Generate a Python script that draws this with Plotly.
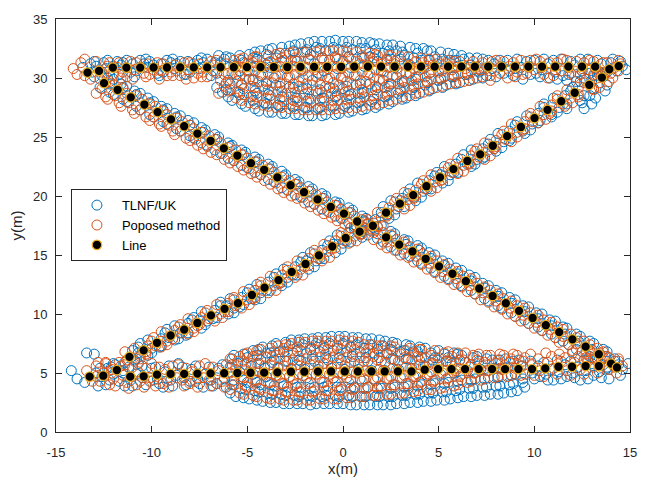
import plotly.graph_objects as go

# ---------------- reference trajectory ("Line") ----------------
line_top_x = [-13.35, -12.75, -12.03, -11.32, -10.60, -9.90, -9.20, -8.51, -7.80, -7.10,
              -6.40, -5.71, -5.02, -4.31, -3.62, -2.91, -2.22, -1.51, -0.82, -0.10,
              0.59, 1.30, 1.99, 2.70, 3.39, 4.08, 4.79, 5.49, 6.19, 6.89,
              7.59, 8.29, 8.99, 9.69, 10.40, 11.09, 11.78, 12.49, 13.18, 13.92, 14.41]
line_top_y = [30.46, 30.60, 30.88, 30.88, 30.88, 30.89, 30.89, 30.90, 30.90, 30.90,
              30.91, 30.91, 30.92, 30.92, 30.93, 30.93, 30.94, 30.94, 30.95, 30.95,
              30.96, 30.96, 30.96, 30.96, 30.96, 30.96, 30.96, 30.96, 30.96, 30.96,
              30.96, 30.96, 30.96, 30.96, 30.96, 30.96, 30.96, 30.96, 30.96, 30.74, 31.01]

line_diag_a_x = [-11.16, -10.42, -9.72, -9.01, -8.30, -7.61, -6.90, -6.19, -5.49, -4.76,
                 -4.10, -3.37, -2.68, -1.96, -1.26, -0.56, 0.14, 0.87, 1.56, 2.25,
                 2.97, 3.67, 4.36, 5.07, 5.77, 6.50, 7.17, 7.83, 8.58, 9.30,
                 10.01, 10.69, 11.41, 12.11, 12.87, 13.53]
line_diag_a_y = [6.37, 6.92, 7.56, 8.18, 8.68, 9.24, 9.88, 10.44, 10.91, 11.61,
                 12.23, 12.87, 13.57, 14.24, 14.97, 15.72, 16.44, 16.98, 17.48, 18.59,
                 19.35, 20.08, 20.83, 21.58, 22.28, 22.97, 23.53, 24.26, 25.07, 25.85,
                 26.60, 27.30, 28.03, 28.75, 29.42, 30.04]

line_diag_b_x = [-12.49, -11.78, -11.09, -10.38, -9.69, -8.99, -8.30, -7.61, -6.92, -6.23,
                 -5.52, -4.81, -4.12, -3.43, -2.74, -2.04, -1.33, -0.64, 0.05, 0.74,
                 2.25, 2.94, 3.63, 4.32, 5.02, 5.72, 6.42, 7.12, 7.82, 8.51,
                 9.20, 9.91, 10.60, 11.30, 11.99, 12.68, 13.37, 14.01]
line_diag_b_y = [29.56, 29.00, 28.36, 27.75, 27.11, 26.49, 25.91, 25.29, 24.68, 24.04,
                 23.43, 22.78, 22.22, 21.58, 20.91, 20.32, 19.71, 19.07, 18.51, 17.84,
                 16.50, 15.88, 15.30, 14.68, 14.04, 13.41, 12.78, 12.16, 11.53, 10.91,
                 10.27, 9.66, 9.05, 8.46, 7.85, 7.23, 6.59, 5.80]

line_bottom_x = [-13.24, -12.53, -11.82, -11.12, -10.42, -9.72, -9.01, -8.30, -7.61, -6.92,
                 -6.21, -5.52, -4.83, -4.12, -3.43, -2.72, -2.02, -1.31, -0.62, 0.09,
                 0.78, 1.49, 2.18, 2.87, 3.58, 4.27, 4.97, 5.67, 6.38, 7.09,
                 7.79, 8.47, 9.17, 9.88, 10.57, 11.26, 11.97, 12.68, 13.37, 14.32]
line_bottom_y = [4.69, 4.77, 5.25, 4.69, 4.72, 4.86, 4.92, 4.92, 4.95, 4.97,
                 4.98, 5.00, 5.02, 5.03, 5.05, 5.11, 5.11, 5.12, 5.13, 5.13,
                 5.13, 5.13, 5.13, 5.13, 5.13, 5.28, 5.33, 5.33, 5.33, 5.33,
                 5.33, 5.33, 5.33, 5.33, 5.39, 5.53, 5.53, 5.59, 5.59, 5.47]

# ---------------- TLNF/UK estimates (x, y) ----------------
tlnf_diag_a = [
    (-12.0, 5.8), (-11.5, 5.0), (-12.3, 5.4), (-11.0, 6.9), (-11.4, 5.9), (-10.8, 6.2),
    (-10.6, 7.5), (-10.2, 6.5), (-10.7, 6.7), (-9.5, 7.9), (-10.0, 7.1), (-9.6, 7.2),
    (-9.2, 8.7), (-8.8, 7.8), (-9.1, 8.0), (-8.1, 9.2), (-8.5, 8.4), (-8.2, 8.2),
    (-7.8, 9.7), (-7.4, 8.8), (-7.5, 9.5), (-6.7, 10.3), (-7.1, 9.4), (-6.8, 9.6),
    (-6.4, 11.0), (-6.0, 10.0), (-6.1, 10.7), (-5.3, 11.4), (-5.7, 10.5), (-5.4, 10.6),
    (-4.9, 12.1), (-4.6, 11.2), (-4.8, 11.3), (-3.9, 12.7), (-4.3, 11.8), (-4.0, 12.0),
    (-3.5, 13.4), (-3.2, 12.4), (-3.3, 12.6), (-2.5, 14.0), (-2.9, 13.1), (-2.6, 13.3),
    (-2.1, 14.8), (-1.8, 13.8), (-1.9, 14.5), (-1.1, 15.4), (-1.4, 14.5), (-1.2, 14.7),
    (-0.7, 16.2), (-0.4, 15.2), (-0.5, 15.9), (0.3, 16.9), (0.0, 16.0), (0.2, 16.2),
    (0.7, 17.5), (1.0, 16.5), (0.9, 16.8), (1.7, 18.0), (1.4, 17.1), (1.6, 17.3),
    (2.1, 19.1), (2.4, 18.1), (2.3, 18.4), (3.1, 19.8), (2.8, 18.9), (3.0, 19.6),
    (3.5, 20.6), (3.8, 19.6), (3.7, 19.9), (4.5, 21.3), (4.2, 20.4), (4.4, 20.6),
    (4.9, 22.0), (5.2, 21.1), (5.1, 21.8), (5.9, 22.7), (5.6, 21.8), (5.8, 22.0),
    (6.3, 23.5), (6.7, 22.5), (6.5, 22.7), (7.3, 24.0), (7.0, 23.1), (7.3, 23.2),
    (7.7, 24.8), (8.0, 23.8), (7.9, 24.0), (8.7, 25.5), (8.4, 24.6), (8.7, 24.7),
    (9.1, 26.3), (9.5, 25.3), (9.4, 25.5), (10.2, 27.0), (9.9, 26.1), (10.2, 26.2),
    (10.5, 27.8), (10.9, 26.7), (10.9, 26.9), (11.6, 28.5), (11.3, 27.5), (11.7, 27.4),
    (12.0, 29.2), (12.4, 28.1), (12.5, 27.9), (13.0, 29.8), (12.9, 28.5), (13.2, 28.3),
    (13.4, 30.5), (13.8, 29.4), (13.7, 28.9), (12.6, 27.4), (13.0, 27.8),
    (-10.7, 7.2), (-10.9, 6.1), (-10.2, 7.8), (-10.0, 6.7), (-9.3, 8.4), (-9.5, 7.3),
    (-8.8, 9.0), (-8.6, 7.9), (-7.9, 9.5), (-8.1, 8.4), (-7.4, 10.2), (-7.2, 9.1),
    (-6.4, 10.7), (-6.6, 9.7), (-5.9, 11.3), (-5.7, 10.1), (-5.0, 11.8), (-5.2, 10.8),
    (-4.5, 12.5), (-4.3, 11.3), (-3.6, 13.1), (-3.8, 12.0), (-3.1, 13.8), (-2.9, 12.7),
    (-2.2, 14.4), (-2.4, 13.3), (-1.7, 15.2), (-1.5, 14.0), (-0.8, 15.8), (-1.0, 14.7),
    (-0.3, 16.7), (-0.1, 15.5), (0.6, 17.2), (0.4, 16.1), (1.1, 17.8), (1.3, 16.7),
    (2.0, 18.6), (1.8, 17.4), (2.5, 19.6), (2.7, 18.4), (3.4, 20.2), (3.2, 19.1),
    (3.9, 21.1), (4.1, 19.9), (4.8, 21.7), (4.6, 20.6), (5.3, 22.5), (5.5, 21.3),
    (6.2, 23.1), (6.0, 22.0), (6.7, 23.9), (6.9, 22.7), (7.6, 24.4), (7.4, 23.3),
    (8.1, 25.3), (8.3, 24.1), (9.0, 26.0), (8.8, 24.9), (9.6, 26.8), (9.8, 25.6),
    (10.5, 27.5), (10.3, 26.4), (11.0, 28.3), (11.2, 27.1), (11.9, 28.9), (11.7, 27.8),
    (12.4, 29.7), (12.6, 28.5), (13.3, 30.2), (13.1, 29.1),
]
tlnf_diag_b = [
    (-12.3, 30.0), (-12.7, 29.2), (-12.2, 29.5), (-11.6, 29.5), (-12.0, 28.6), (-11.5, 29.2),
    (-10.9, 28.9), (-11.3, 28.0), (-10.8, 28.6), (-10.2, 28.3), (-10.6, 27.3), (-10.1, 27.9),
    (-9.5, 27.6), (-9.9, 26.7), (-9.4, 27.3), (-8.8, 27.0), (-9.2, 26.1), (-8.7, 26.7),
    (-8.1, 26.4), (-8.5, 25.5), (-8.0, 26.0), (-7.4, 25.8), (-7.8, 24.9), (-7.3, 25.4),
    (-6.7, 25.2), (-7.1, 24.3), (-6.6, 24.8), (-6.0, 24.5), (-6.4, 23.6), (-5.9, 24.2),
    (-5.3, 23.9), (-5.7, 23.0), (-5.2, 23.5), (-4.6, 23.3), (-5.0, 22.4), (-4.5, 22.9),
    (-3.9, 22.7), (-4.3, 21.8), (-3.8, 22.3), (-3.2, 22.1), (-3.6, 21.2), (-3.1, 21.7),
    (-2.5, 21.4), (-2.9, 20.5), (-2.4, 21.0), (-1.8, 20.8), (-2.2, 19.9), (-1.7, 20.4),
    (-1.1, 20.2), (-1.5, 19.3), (-1.0, 19.8), (-0.4, 19.5), (-0.8, 18.7), (-0.3, 19.2),
    (0.3, 19.0), (-0.1, 18.1), (0.4, 18.6), (1.0, 18.3), (0.6, 17.4), (1.1, 17.9),
    (1.6, 17.7), (1.8, 16.8), (2.5, 17.0), (2.1, 16.1), (2.6, 16.6), (3.2, 16.3),
    (2.8, 15.4), (3.3, 15.9), (3.9, 15.8), (3.5, 14.9), (4.0, 15.4), (4.5, 15.2),
    (4.1, 14.3), (4.6, 14.7), (5.2, 14.5), (4.8, 13.6), (5.3, 14.1), (5.9, 13.9),
    (5.5, 13.0), (6.0, 13.4), (6.6, 13.3), (6.2, 12.4), (6.7, 12.8), (7.3, 12.6),
    (6.9, 11.7), (7.4, 12.2), (8.0, 12.0), (7.6, 11.1), (8.1, 11.5), (8.7, 11.4),
    (8.3, 10.5), (8.8, 10.9), (9.4, 10.7), (9.0, 9.8), (9.5, 10.2), (10.1, 10.1),
    (9.7, 9.2), (10.2, 9.6), (10.8, 9.5), (10.4, 8.6), (10.9, 9.0), (11.5, 8.9),
    (11.1, 8.0), (11.6, 8.3), (12.2, 8.3), (11.8, 7.4), (12.3, 7.7), (12.9, 7.7),
    (12.5, 6.8), (13.0, 7.0), (13.6, 7.0), (13.2, 6.1), (13.7, 6.4), (14.2, 6.2),
    (13.8, 5.4), (14.4, 5.7),
    (-12.0, 29.9), (-12.2, 28.8), (-11.3, 29.3), (-11.5, 28.2), (-10.6, 28.7), (-10.8, 27.6),
    (-9.9, 28.0), (-10.1, 26.9), (-9.2, 27.4), (-9.4, 26.3), (-8.5, 26.8), (-8.7, 25.7),
    (-7.8, 26.2), (-8.0, 25.1), (-7.2, 25.6), (-7.4, 24.5), (-6.5, 25.0), (-6.7, 23.9),
    (-5.8, 24.3), (-6.0, 23.2), (-5.1, 23.7), (-5.3, 22.6), (-4.4, 23.1), (-4.6, 22.0),
    (-3.7, 22.5), (-3.9, 21.4), (-3.0, 21.8), (-3.2, 20.7), (-2.3, 21.2), (-2.5, 20.1),
    (-1.6, 20.6), (-1.8, 19.5), (-0.9, 20.0), (-1.1, 18.9), (-0.2, 19.4), (-0.4, 18.3),
    (0.5, 18.8), (0.3, 17.7), (1.2, 18.1), (1.0, 17.0), (2.0, 17.5), (1.8, 16.4),
    (2.7, 16.8), (2.5, 15.7), (3.4, 16.2), (3.2, 15.1), (4.1, 15.6), (3.9, 14.5),
    (4.8, 15.0), (4.6, 13.9), (5.5, 14.3), (5.3, 13.2), (6.2, 13.7), (6.0, 12.6),
    (6.9, 13.1), (6.7, 12.0), (7.6, 12.4), (7.4, 11.3), (8.3, 11.8), (8.1, 10.7),
    (9.0, 11.2), (8.8, 10.1), (9.7, 10.6), (9.5, 9.5), (10.4, 10.0), (10.2, 8.9),
    (11.1, 9.4), (10.9, 8.3), (11.7, 8.8), (11.5, 7.7), (12.4, 8.1), (12.2, 7.0),
    (13.1, 7.5), (12.9, 6.4), (13.8, 6.8), (13.6, 5.7),
]
tlnf_top = [
    (-13.6, 30.9), (-13.2, 31.2), (-13.0, 30.1), (-12.5, 31.3), (-12.9, 31.0), (-12.6, 30.2),
    (-11.8, 31.4), (-12.2, 30.6), (-12.0, 31.0), (-11.5, 31.3), (-11.1, 30.5), (-11.3, 31.5),
    (-10.4, 31.2), (-10.8, 30.6), (-10.6, 31.5), (-10.1, 31.4), (-9.7, 30.4), (-9.9, 31.1),
    (-9.0, 31.3), (-9.4, 30.5), (-9.2, 31.5), (-8.7, 31.2), (-8.3, 30.3), (-8.5, 31.4),
    (-7.6, 31.5), (-8.0, 30.5), (-7.8, 31.2), (-7.3, 31.3), (-6.9, 30.2), (-7.1, 31.6),
    (-6.2, 31.6), (-6.6, 30.4), (-6.4, 31.3), (-6.6, 29.2), (-6.3, 28.8), (-6.5, 31.9),
    (-13.0, 31.4), (-13.1, 30.5), (-12.4, 30.8), (-12.3, 31.5), (-11.7, 30.3), (-11.6, 31.1),
    (-11.0, 31.2), (-10.9, 30.1), (-10.2, 30.9), (-10.3, 31.6), (-9.5, 31.2), (-9.6, 30.2),
    (-8.8, 30.8), (-8.9, 31.6), (-8.1, 31.4), (-8.2, 30.3), (-7.5, 30.8), (-7.4, 31.7),
    (-6.7, 31.3), (-6.8, 30.6),
    (-5.8, 28.1), (-5.5, 28.8), (-5.9, 29.5), (-5.6, 30.3), (-5.7, 31.1), (-5.9, 31.7),
    (-5.1, 27.6), (-4.8, 28.4), (-5.2, 29.1), (-4.9, 29.9), (-5.0, 30.6), (-5.2, 31.3), (-4.9, 32.0),
    (-4.4, 27.2), (-4.1, 27.9), (-4.5, 28.7), (-4.2, 29.3), (-4.3, 30.2), (-4.1, 30.9), (-4.5, 31.6), (-4.3, 32.3),
    (-3.7, 27.1), (-3.4, 27.7), (-3.8, 28.5), (-3.5, 29.4), (-3.6, 30.0), (-3.8, 30.9), (-3.5, 31.7), (-3.7, 32.5),
    (-3.0, 27.0), (-2.7, 27.8), (-3.1, 28.4), (-2.8, 29.2), (-2.9, 30.1), (-3.0, 30.8), (-2.7, 31.5), (-3.0, 32.1), (-2.8, 32.7),
    (-2.3, 26.9), (-2.0, 27.5), (-2.4, 28.3), (-2.1, 29.1), (-2.3, 29.7), (-2.1, 30.6), (-2.4, 31.4), (-2.0, 32.2), (-2.2, 32.9),
    (-1.6, 26.8), (-1.3, 27.4), (-1.7, 28.2), (-1.4, 28.9), (-1.6, 29.8), (-1.3, 30.4), (-1.5, 31.2), (-1.7, 32.0), (-1.4, 32.6), (-1.5, 33.1),
    (-0.9, 26.9), (-0.6, 27.7), (-1.0, 28.3), (-0.7, 29.2), (-0.8, 29.9), (-1.0, 30.6), (-0.7, 31.5), (-0.9, 32.3), (-0.7, 33.1),
    (-0.2, 27.0), (0.1, 27.6), (-0.3, 28.5), (0.0, 29.1), (-0.1, 30.0), (-0.3, 30.8), (0.0, 31.4), (-0.2, 32.4), (0.0, 33.1),
    (0.5, 27.2), (0.8, 27.9), (0.4, 28.6), (0.7, 29.4), (0.6, 30.2), (0.4, 30.9), (0.7, 31.6), (0.5, 32.4), (0.7, 33.1),
    (1.2, 27.4), (1.5, 28.0), (1.1, 28.8), (1.4, 29.5), (1.3, 30.3), (1.1, 31.0), (1.4, 31.8), (1.2, 32.5), (1.4, 33.0),
    (1.9, 27.7), (2.2, 28.4), (1.8, 29.2), (2.1, 29.8), (2.0, 30.6), (1.8, 31.4), (2.1, 32.1), (1.9, 32.9),
    (2.6, 28.0), (2.9, 28.7), (2.5, 29.5), (2.8, 30.1), (2.7, 30.9), (2.5, 31.6), (2.8, 32.3), (2.6, 32.8),
    (3.3, 28.3), (3.6, 29.0), (3.2, 29.7), (3.5, 30.4), (3.4, 31.2), (3.2, 31.9), (3.5, 32.6),
    (4.0, 28.7), (4.3, 29.4), (3.9, 30.1), (4.2, 30.8), (4.1, 31.5), (3.9, 32.1), (4.2, 32.5),
    (4.7, 29.1), (5.0, 29.8), (4.6, 30.5), (4.9, 31.2), (4.8, 31.8), (4.6, 32.3),
    (5.4, 29.4), (5.7, 30.1), (5.3, 30.8), (5.6, 31.5), (5.5, 32.1),
    (6.1, 29.6), (6.4, 30.3), (6.0, 31.0), (6.3, 31.6), (6.2, 31.9),
    (6.8, 29.9), (7.1, 30.5), (6.7, 31.1), (7.0, 31.7), (7.5, 30.2), (7.8, 30.8), (7.6, 31.5),
    (-6.0, 28.4), (-6.1, 29.0), (-6.0, 29.8), (-6.1, 31.8),
    (-5.3, 27.8), (-5.4, 28.6), (-5.3, 29.4), (-5.4, 30.6), (-5.3, 31.5), (-5.4, 31.9),
    (-4.6, 27.4), (-4.7, 28.1), (-4.6, 28.9), (-4.7, 29.8), (-4.6, 31.0), (-4.7, 31.7), (-4.6, 32.2),
    (-3.9, 27.1), (-4.0, 27.8), (-3.9, 28.6), (-4.0, 29.5), (-3.9, 31.3), (-4.0, 32.0), (-3.9, 32.4),
    (-3.2, 27.0), (-3.3, 27.6), (-3.2, 28.4), (-3.3, 29.3), (-3.2, 31.4), (-3.3, 32.1), (-3.2, 32.6),
    (-2.5, 26.9), (-2.6, 27.6), (-2.5, 28.3), (-2.6, 29.2), (-2.5, 31.5), (-2.6, 32.3), (-2.5, 32.8),
    (-1.8, 26.8), (-1.9, 27.5), (-1.8, 28.2), (-1.9, 29.1), (-1.8, 31.6), (-1.9, 32.4), (-1.8, 33.0),
    (-1.1, 26.8), (-1.2, 27.5), (-1.1, 28.3), (-1.2, 29.0), (-1.1, 31.7), (-1.2, 32.5), (-1.1, 33.1),
    (-0.4, 26.9), (-0.5, 27.6), (-0.4, 28.4), (-0.5, 29.1), (-0.4, 31.8), (-0.5, 32.6), (-0.4, 33.2),
    (0.3, 27.1), (0.2, 27.8), (0.3, 28.5), (0.2, 29.3), (0.3, 31.8), (0.2, 32.6), (0.3, 33.1),
    (1.0, 27.3), (0.9, 28.0), (1.0, 28.7), (0.9, 29.5), (1.0, 31.7), (0.9, 32.5), (1.0, 33.0),
    (1.7, 27.5), (1.6, 28.2), (1.7, 29.0), (1.6, 31.7), (1.7, 32.4), (1.6, 32.9),
    (2.4, 27.8), (2.3, 28.5), (2.4, 29.3), (2.3, 31.6), (2.4, 32.3), (2.3, 32.8),
    (3.1, 28.2), (3.0, 28.9), (3.1, 29.6), (3.0, 31.6), (3.1, 32.2), (3.0, 32.7),
    (3.8, 28.5), (3.7, 29.2), (3.8, 29.9), (3.7, 31.7), (3.8, 32.5),
    (4.5, 28.9), (4.4, 29.6), (4.5, 31.5), (4.4, 32.3),
    (5.2, 29.2), (5.1, 29.9), (5.2, 31.6), (5.1, 32.2),
    (5.9, 29.5), (5.8, 30.1), (5.9, 31.5), (5.8, 32.0),
    (6.6, 29.8), (6.5, 30.3), (6.6, 31.7), (7.3, 30.0), (7.2, 30.6), (7.3, 31.6),
    (8.2, 31.5), (8.4, 30.4), (8.3, 31.0), (9.1, 31.6), (8.9, 30.2), (9.0, 30.8),
    (9.6, 31.4), (9.8, 30.3), (9.7, 31.0), (10.5, 31.6), (10.3, 30.1), (10.4, 30.7),
    (11.0, 31.5), (11.2, 29.9), (11.1, 30.5), (11.9, 31.4), (11.7, 29.8), (11.8, 30.3),
    (12.4, 31.6), (12.6, 30.0), (12.5, 30.6), (13.3, 31.5), (13.1, 30.2), (13.2, 30.8),
    (14.0, 31.3), (13.8, 30.5), (14.3, 30.6), (14.6, 31.0), (14.5, 31.4),
    (7.9, 31.2), (8.0, 30.1), (8.6, 31.5), (8.7, 30.6), (9.3, 30.9), (9.4, 29.9),
    (10.0, 31.5), (10.1, 30.4), (10.7, 31.2), (10.8, 30.0), (11.4, 31.6), (11.5, 30.2),
    (12.1, 31.1), (12.2, 29.7), (12.8, 31.6), (12.9, 30.4), (13.5, 31.2), (13.6, 30.1),
    (14.1, 31.6), (14.8, 30.7),
]
tlnf_bottom = [
    (-14.2, 5.2), (-13.9, 4.5), (-13.4, 6.7), (-13.0, 6.6), (-13.5, 4.2),
    (-12.7, 5.4), (-12.4, 4.0), (-12.6, 4.7), (-11.9, 5.7), (-11.7, 4.3), (-12.0, 4.9),
    (-11.2, 5.5), (-11.0, 3.9), (-11.1, 4.4), (-10.5, 5.6), (-10.3, 4.0), (-10.5, 4.6),
    (-9.8, 5.5), (-9.6, 4.1), (-9.7, 4.5), (-9.1, 5.6), (-8.9, 3.9), (-9.0, 4.4),
    (-8.4, 5.5), (-8.2, 4.0), (-8.3, 4.6), (-7.7, 5.6), (-7.5, 4.1), (-7.6, 4.5),
    (-7.0, 5.5), (-6.8, 3.9), (-6.9, 4.4), (-6.3, 5.7), (-6.1, 3.8), (-6.2, 4.5),
    (-12.9, 5.0), (-12.8, 3.9), (-12.2, 4.4), (-12.1, 5.5), (-11.5, 5.2), (-11.4, 3.9),
    (-10.8, 4.9), (-10.7, 5.8), (-10.1, 4.3), (-10.0, 5.4), (-9.4, 3.8), (-9.3, 5.1),
    (-8.7, 4.8), (-8.6, 5.8), (-8.0, 4.3), (-7.9, 5.3), (-7.3, 3.8), (-7.2, 4.9),
    (-6.6, 4.1), (-6.5, 5.4),
    (-5.6, 3.0), (-5.3, 3.7), (-5.7, 4.4), (-5.4, 5.1), (-5.5, 5.8), (-5.7, 6.5),
    (-4.9, 2.8), (-4.6, 3.5), (-5.0, 4.2), (-4.7, 4.9), (-4.8, 5.6), (-5.0, 6.3), (-4.7, 6.9),
    (-4.2, 2.6), (-3.9, 3.3), (-4.3, 4.0), (-4.0, 4.7), (-4.1, 5.4), (-4.3, 6.1), (-4.0, 6.7), (-4.2, 7.2),
    (-3.5, 2.5), (-3.2, 3.2), (-3.6, 3.9), (-3.3, 4.6), (-3.4, 5.4), (-3.6, 6.1), (-3.3, 6.8), (-3.5, 7.5),
    (-2.8, 2.4), (-2.5, 3.1), (-2.9, 3.8), (-2.6, 4.5), (-2.7, 5.3), (-2.9, 6.0), (-2.6, 6.7), (-2.8, 7.3), (-2.7, 7.8),
    (-2.1, 2.4), (-1.8, 3.1), (-2.2, 3.8), (-1.9, 4.6), (-2.0, 5.3), (-2.2, 6.0), (-1.9, 6.7), (-2.1, 7.4), (-2.0, 7.9),
    (-1.4, 2.4), (-1.1, 3.0), (-1.5, 3.8), (-1.2, 4.5), (-1.3, 5.3), (-1.5, 6.0), (-1.2, 6.8), (-1.4, 7.5), (-1.3, 8.0),
    (-0.7, 2.4), (-0.4, 3.1), (-0.8, 3.9), (-0.5, 4.6), (-0.6, 5.4), (-0.8, 6.1), (-0.5, 6.9), (-0.7, 7.5), (-0.6, 8.1),
    (0.0, 2.4), (0.3, 3.1), (-0.1, 3.8), (0.2, 4.6), (0.1, 5.3), (-0.1, 6.1), (0.2, 6.8), (0.0, 7.5), (0.1, 8.1),
    (0.7, 2.3), (1.0, 3.0), (0.6, 3.8), (0.9, 4.5), (0.8, 5.3), (0.6, 6.0), (0.9, 6.8), (0.7, 7.4), (0.8, 8.0),
    (1.4, 2.3), (1.7, 3.0), (1.3, 3.8), (1.6, 4.5), (1.5, 5.2), (1.3, 6.0), (1.6, 6.7), (1.4, 7.4), (1.5, 7.9),
    (2.1, 2.3), (2.4, 3.0), (2.0, 3.7), (2.3, 4.5), (2.2, 5.2), (2.0, 6.0), (2.3, 6.7), (2.1, 7.3), (2.2, 7.7),
    (2.8, 2.4), (3.1, 3.1), (2.7, 3.8), (3.0, 4.6), (2.9, 5.3), (2.7, 6.1), (3.0, 6.8), (2.8, 7.5),
    (3.5, 2.5), (3.8, 3.2), (3.4, 3.9), (3.7, 4.7), (3.6, 5.4), (3.4, 6.2), (3.7, 6.8), (3.5, 7.3),
    (4.2, 2.6), (4.5, 3.3), (4.1, 4.0), (4.4, 4.8), (4.3, 5.6), (4.1, 6.3), (4.3, 7.1),
    (4.9, 2.7), (5.2, 3.4), (4.8, 4.1), (5.1, 4.9), (5.0, 5.7), (4.8, 6.3), (5.0, 6.9),
    (5.6, 2.8), (5.9, 3.5), (5.5, 4.2), (5.8, 5.0), (5.7, 5.8), (5.5, 6.3), (5.8, 6.7),
    (6.3, 3.0), (6.6, 3.7), (6.2, 4.4), (6.5, 5.2), (6.4, 5.9), (6.2, 6.5),
    (7.0, 3.1), (7.3, 3.8), (6.9, 4.5), (7.2, 5.3), (7.1, 6.0), (7.0, 6.4),
    (7.7, 3.2), (8.0, 3.9), (7.6, 4.6), (7.9, 5.4), (7.8, 6.1),
    (8.4, 3.3), (8.7, 4.0), (8.3, 4.7), (8.6, 5.5), (8.5, 6.2),
    (9.1, 3.5), (9.4, 4.2), (9.0, 4.9), (9.3, 5.6), (9.2, 6.1),
    (-5.9, 3.3), (-5.8, 4.0), (-5.9, 5.5), (-5.8, 6.2),
    (-5.2, 2.9), (-5.1, 3.6), (-5.2, 4.4), (-5.1, 5.7), (-5.2, 6.6),
    (-4.5, 2.7), (-4.4, 3.4), (-4.5, 4.2), (-4.4, 5.8), (-4.5, 6.5), (-4.4, 7.0),
    (-3.8, 2.5), (-3.7, 3.2), (-3.8, 4.0), (-3.7, 5.9), (-3.8, 6.7), (-3.7, 7.3),
    (-3.1, 2.4), (-3.0, 3.1), (-3.1, 3.9), (-3.0, 6.0), (-3.1, 6.8), (-3.0, 7.6),
    (-2.4, 2.4), (-2.3, 3.0), (-2.4, 3.8), (-2.3, 6.1), (-2.4, 6.9), (-2.3, 7.8),
    (-1.7, 2.3), (-1.6, 3.0), (-1.7, 3.7), (-1.6, 6.2), (-1.7, 7.0), (-1.6, 7.9),
    (-1.0, 2.4), (-0.9, 3.1), (-1.0, 3.8), (-0.9, 6.3), (-1.0, 7.1), (-0.9, 8.0),
    (-0.3, 2.4), (-0.2, 3.0), (-0.3, 3.8), (-0.2, 6.3), (-0.3, 7.1), (-0.2, 8.1),
    (0.4, 2.3), (0.5, 3.0), (0.4, 3.7), (0.5, 6.4), (0.4, 7.2), (0.5, 8.0),
    (1.1, 2.3), (1.2, 3.0), (1.1, 3.7), (1.2, 6.3), (1.1, 7.1), (1.2, 7.9),
    (1.8, 2.3), (1.9, 3.0), (1.8, 3.7), (1.9, 6.3), (1.8, 7.0), (1.9, 7.8),
    (2.5, 2.3), (2.6, 3.0), (2.5, 3.7), (2.6, 6.2), (2.5, 7.0), (2.6, 7.6),
    (3.2, 2.4), (3.3, 3.1), (3.2, 3.8), (3.3, 6.2), (3.2, 6.9), (3.3, 7.4),
    (3.9, 2.5), (4.0, 3.2), (3.9, 3.9), (4.0, 6.1), (3.9, 6.8), (4.0, 7.2),
    (4.6, 2.6), (4.7, 3.3), (4.6, 4.0), (4.7, 6.1), (4.6, 6.7),
    (5.3, 2.7), (5.4, 3.4), (5.3, 4.1), (5.4, 6.0), (5.3, 6.6),
    (6.0, 2.9), (6.1, 3.6), (6.0, 4.3), (6.1, 6.1), (6.0, 6.6),
    (6.7, 3.0), (6.8, 3.7), (6.7, 4.4), (6.8, 6.3),
    (7.4, 3.1), (7.5, 3.8), (7.4, 4.5), (7.5, 6.2),
    (8.1, 3.2), (8.2, 3.9), (8.1, 4.6), (8.2, 6.1),
    (8.8, 3.4), (8.9, 4.1), (8.8, 4.8), (8.9, 6.0), (9.5, 3.8), (9.4, 4.5),
    (9.8, 6.0), (10.0, 4.5), (9.9, 5.0), (10.5, 5.9), (10.7, 4.4), (10.6, 4.9),
    (11.2, 6.1), (11.4, 4.5), (11.3, 5.1), (11.9, 6.0), (12.1, 4.6), (12.0, 5.0),
    (12.6, 6.1), (12.8, 4.5), (12.7, 5.2), (13.3, 6.2), (13.5, 4.6), (13.4, 5.1),
    (14.2, 6.0), (14.5, 4.8), (14.9, 5.8), (14.6, 5.3),
    (10.2, 5.6), (10.3, 4.7), (10.9, 5.3), (11.0, 4.4), (11.6, 5.7), (11.7, 4.7),
    (12.3, 5.5), (12.4, 4.4), (13.0, 5.8), (13.1, 4.8), (13.8, 5.5), (13.9, 4.5),
]

# ---------------- Proposed-method estimates (x, y) ----------------
prop_diag_a = [
    (-11.6, 5.6), (-12.1, 5.0), (-12.4, 5.9), (-11.4, 6.8), (-10.9, 6.0), (-11.3, 6.1),
    (-10.2, 7.3), (-10.6, 6.4), (-10.3, 6.6), (-9.9, 8.0), (-9.5, 7.2), (-9.8, 7.3),
    (-8.8, 8.6), (-9.2, 7.7), (-8.9, 7.9), (-8.5, 9.1), (-8.1, 8.3), (-8.4, 8.4),
    (-7.4, 9.7), (-7.8, 8.8), (-7.6, 9.0), (-7.1, 10.3), (-6.7, 9.4), (-7.0, 9.6),
    (-6.0, 10.9), (-6.4, 10.0), (-6.2, 10.2), (-5.7, 11.4), (-5.3, 10.5), (-5.6, 10.7),
    (-4.6, 12.0), (-5.0, 11.2), (-4.7, 11.3), (-4.3, 12.7), (-3.9, 11.8), (-4.2, 12.0),
    (-3.2, 13.3), (-3.6, 12.4), (-3.4, 12.6), (-2.9, 14.0), (-2.5, 13.1), (-2.7, 13.3),
    (-1.8, 14.7), (-2.2, 13.8), (-2.0, 14.0), (-1.5, 15.4), (-1.1, 14.5), (-1.3, 14.7),
    (-0.4, 16.2), (-0.8, 15.3), (-0.6, 15.5), (-0.1, 16.9), (0.3, 16.0), (0.1, 16.2),
    (1.0, 17.4), (0.6, 16.6), (0.9, 16.7), (1.3, 18.0), (1.7, 17.1), (1.5, 17.2),
    (2.4, 19.0), (2.0, 18.2), (2.3, 18.3), (2.8, 19.8), (3.2, 18.9), (2.9, 19.1),
    (3.8, 20.5), (3.4, 19.7), (3.7, 19.8), (4.2, 21.3), (4.6, 20.4), (4.3, 20.6),
    (5.2, 22.0), (4.8, 21.2), (5.1, 21.3), (5.6, 22.7), (6.0, 21.9), (5.7, 22.0),
    (6.7, 23.4), (6.3, 22.6), (6.6, 22.7), (7.0, 24.0), (7.4, 23.1), (7.1, 23.3),
    (8.0, 24.7), (7.6, 23.9), (7.9, 24.0), (8.4, 25.5), (8.8, 24.6), (8.5, 24.8),
    (9.5, 26.3), (9.1, 25.4), (9.4, 25.6), (9.8, 27.0), (10.2, 26.2), (9.9, 26.3),
    (10.9, 27.7), (10.5, 26.9), (10.8, 27.0), (11.2, 28.5), (11.6, 27.6), (11.5, 27.8),
    (12.3, 29.2), (11.9, 28.3), (12.3, 28.4), (12.7, 29.9), (13.1, 29.0), (13.0, 29.1),
    (13.7, 30.4), (13.4, 29.6), (13.9, 29.7),
    (-10.9, 7.1), (-10.6, 6.2), (-10.0, 7.7), (-10.3, 6.8), (-9.5, 8.5), (-9.2, 7.4),
    (-8.6, 8.9), (-8.9, 7.9), (-8.1, 9.6), (-7.8, 8.5), (-7.2, 10.1), (-7.5, 9.1),
    (-6.6, 10.8), (-6.3, 9.7), (-5.7, 11.2), (-6.0, 10.2), (-5.2, 11.9), (-4.9, 10.8),
    (-4.3, 12.4), (-4.6, 11.4), (-3.8, 13.2), (-3.5, 12.0), (-2.9, 13.7), (-3.2, 12.7),
    (-2.4, 14.5), (-2.1, 13.3), (-1.5, 15.1), (-1.8, 14.1), (-1.0, 15.9), (-0.7, 14.8),
    (-0.1, 16.6), (-0.4, 15.6), (0.4, 17.3), (0.7, 16.2), (1.3, 17.7), (1.0, 16.8),
    (1.8, 18.6), (2.1, 17.5), (2.7, 19.5), (2.4, 18.5), (3.2, 20.3), (3.5, 19.2),
    (4.1, 21.0), (3.8, 20.0), (4.6, 21.8), (4.9, 20.7), (5.5, 22.4), (5.2, 21.4),
    (6.0, 23.2), (6.3, 22.1), (6.9, 23.8), (6.6, 22.8), (7.4, 24.5), (7.7, 23.4),
    (8.3, 25.2), (8.0, 24.2), (8.8, 26.1), (9.1, 25.0), (9.8, 26.7), (9.5, 25.7),
    (10.3, 27.6), (10.6, 26.5), (11.2, 28.2), (10.9, 27.2), (11.7, 29.0), (12.0, 27.9),
    (12.6, 29.6), (12.3, 28.6), (13.1, 30.3), (13.4, 29.2),
]
prop_diag_b = [
    (-12.7, 29.9), (-12.6, 29.1), (-12.9, 28.7), (-12.0, 29.4), (-11.9, 28.5), (-12.3, 28.2),
    (-11.3, 28.7), (-11.2, 27.9), (-11.6, 27.6), (-10.5, 28.2), (-10.6, 27.3), (-10.9, 27.0),
    (-9.8, 27.6), (-9.9, 26.7), (-10.1, 26.4), (-9.2, 26.9), (-9.1, 26.0), (-9.5, 25.9),
    (-8.4, 26.3), (-8.5, 25.5), (-8.8, 25.2), (-7.8, 25.7), (-7.7, 24.8), (-8.0, 24.7),
    (-7.0, 25.1), (-7.1, 24.2), (-7.3, 24.0), (-6.4, 24.5), (-6.3, 23.6), (-6.6, 23.5),
    (-5.6, 23.9), (-5.7, 23.0), (-5.9, 22.8), (-5.0, 23.2), (-4.9, 22.3), (-5.2, 22.2),
    (-4.2, 22.6), (-4.3, 21.8), (-4.5, 21.6), (-3.6, 22.0), (-3.5, 21.1), (-3.8, 21.0),
    (-2.8, 21.3), (-2.9, 20.5), (-3.1, 20.3), (-2.2, 20.7), (-2.1, 19.9), (-2.4, 19.8),
    (-1.4, 20.1), (-1.5, 19.3), (-1.7, 19.1), (-0.8, 19.5), (-0.7, 18.6), (-1.0, 18.5),
    (-0.1, 18.9), (0.0, 18.1), (-0.3, 17.9), (0.6, 18.3), (0.7, 17.4), (0.4, 17.3),
    (1.3, 17.6), (1.6, 16.9), (2.1, 16.9), (2.3, 16.1), (2.0, 15.9), (2.8, 16.3),
    (3.1, 15.5), (2.7, 15.4), (3.5, 15.7), (3.8, 14.9), (3.4, 14.8), (4.2, 15.1),
    (4.5, 14.3), (4.1, 14.2), (4.9, 14.5), (5.2, 13.6), (4.8, 13.5), (5.6, 13.8),
    (5.9, 13.0), (5.5, 12.9), (6.3, 13.2), (6.6, 12.4), (6.2, 12.3), (7.0, 12.6),
    (7.3, 11.8), (6.9, 11.7), (7.7, 12.0), (8.0, 11.1), (7.6, 11.0), (8.4, 11.3),
    (8.7, 10.5), (8.3, 10.4), (9.1, 10.7), (9.4, 9.9), (9.0, 9.8), (9.8, 10.1),
    (10.1, 9.3), (9.7, 9.2), (10.5, 9.5), (10.8, 8.7), (10.4, 8.6), (11.2, 8.9),
    (11.5, 8.1), (11.1, 8.0), (11.9, 8.3), (12.2, 7.5), (11.8, 7.4), (12.6, 7.7),
    (12.9, 6.9), (12.5, 6.8), (13.3, 7.1), (13.6, 6.3), (13.2, 6.2), (13.9, 6.3),
    (14.2, 5.5), (14.4, 6.0),
    (-12.2, 29.7), (-12.4, 28.4), (-11.5, 29.1), (-11.7, 27.9), (-10.8, 28.5), (-11.0, 27.3),
    (-10.1, 27.8), (-10.3, 26.7), (-9.4, 27.2), (-9.6, 26.1), (-8.7, 26.6), (-8.9, 25.5),
    (-8.0, 26.0), (-8.2, 24.9), (-7.4, 25.4), (-7.6, 24.3), (-6.7, 24.8), (-6.9, 23.7),
    (-6.0, 24.1), (-6.2, 23.1), (-5.3, 23.5), (-5.5, 22.5), (-4.6, 22.9), (-4.8, 21.9),
    (-3.9, 22.3), (-4.1, 21.3), (-3.2, 21.6), (-3.4, 20.6), (-2.5, 21.0), (-2.7, 20.0),
    (-1.8, 20.4), (-2.0, 19.4), (-1.1, 19.8), (-1.3, 18.8), (-0.4, 19.2), (-0.6, 18.2),
    (0.3, 18.6), (0.1, 17.6), (1.0, 18.0), (0.8, 16.9), (1.8, 17.4), (1.6, 16.3),
    (2.5, 16.7), (2.3, 15.6), (3.2, 16.1), (3.0, 15.0), (3.9, 15.5), (3.7, 14.4),
    (4.6, 14.9), (4.4, 13.8), (5.3, 14.2), (5.1, 13.1), (6.0, 13.6), (5.8, 12.5),
    (6.7, 13.0), (6.5, 11.9), (7.4, 12.3), (7.2, 11.2), (8.1, 11.7), (7.9, 10.6),
    (8.8, 11.1), (8.6, 10.0), (9.5, 10.5), (9.3, 9.4), (10.2, 9.9), (10.0, 8.8),
    (10.9, 9.3), (10.7, 8.2), (11.5, 8.7), (11.3, 7.6), (12.2, 8.0), (12.0, 6.9),
    (12.9, 7.4), (12.7, 6.3), (13.6, 6.8), (13.4, 5.6),
]
prop_top = [
    (-14.1, 30.8), (-13.7, 31.3), (-13.5, 30.2), (-13.2, 29.9), (-12.9, 31.4), (-12.6, 30.5),
    (-12.2, 31.3), (-12.0, 30.3), (-11.8, 30.9), (-11.1, 31.4), (-11.5, 30.5), (-11.3, 30.1),
    (-10.8, 31.3), (-10.4, 30.4), (-10.6, 30.9), (-9.7, 31.3), (-10.1, 30.3), (-9.9, 30.7),
    (-9.4, 31.2), (-9.0, 30.5), (-9.2, 30.2), (-8.3, 31.3), (-8.7, 30.6), (-8.5, 30.2),
    (-8.0, 31.3), (-7.6, 30.4), (-7.8, 30.0), (-6.9, 31.4), (-7.3, 30.5), (-7.1, 30.1),
    (-6.6, 31.5), (-6.2, 30.3), (-6.4, 29.8), (-6.5, 28.7), (-6.2, 29.3),
    (-13.9, 30.3), (-13.5, 31.6), (-12.4, 29.6), (-12.3, 31.0), (-11.6, 30.0), (-11.7, 31.3),
    (-10.9, 30.7), (-11.0, 29.9), (-10.2, 31.2), (-10.3, 30.1), (-9.5, 30.6), (-9.6, 29.9),
    (-8.8, 31.1), (-8.9, 30.2), (-8.1, 30.7), (-8.2, 29.9), (-7.5, 31.2), (-7.4, 30.1),
    (-6.7, 30.6), (-6.8, 31.1),
    (-5.6, 28.3), (-5.9, 29.0), (-5.5, 29.7), (-5.8, 30.4), (-5.6, 31.0), (-5.7, 31.5),
    (-4.9, 27.9), (-5.2, 28.6), (-4.8, 29.3), (-5.1, 29.9), (-4.9, 30.6), (-5.0, 31.2), (-5.2, 31.7),
    (-4.2, 27.7), (-4.5, 28.4), (-4.1, 29.0), (-4.4, 29.7), (-4.2, 30.3), (-4.3, 31.0), (-4.5, 31.8),
    (-3.5, 27.5), (-3.8, 28.2), (-3.4, 28.8), (-3.7, 29.6), (-3.5, 30.2), (-3.6, 30.9), (-3.8, 31.4), (-3.5, 32.0),
    (-2.8, 27.4), (-3.1, 28.0), (-2.7, 28.7), (-3.0, 29.5), (-2.8, 30.1), (-2.9, 30.8), (-3.1, 31.5), (-2.8, 32.1),
    (-2.1, 27.3), (-2.4, 28.0), (-2.0, 28.6), (-2.3, 29.3), (-2.1, 30.0), (-2.2, 30.7), (-2.4, 31.4), (-2.1, 32.2),
    (-1.4, 27.3), (-1.7, 27.9), (-1.3, 28.7), (-1.6, 29.4), (-1.4, 30.1), (-1.5, 30.7), (-1.7, 31.5), (-1.4, 32.2),
    (-0.7, 27.3), (-1.0, 28.0), (-0.6, 28.7), (-0.9, 29.3), (-0.7, 30.0), (-0.8, 30.8), (-1.0, 31.5), (-0.7, 32.3),
    (0.0, 27.4), (-0.3, 28.1), (0.1, 28.8), (-0.2, 29.4), (0.0, 30.1), (-0.1, 30.8), (-0.3, 31.6), (0.0, 32.3),
    (0.7, 27.5), (0.4, 28.2), (0.8, 28.8), (0.5, 29.5), (0.7, 30.2), (0.6, 30.9), (0.4, 31.6), (0.7, 32.2),
    (1.4, 27.7), (1.1, 28.4), (1.5, 29.0), (1.2, 29.7), (1.4, 30.4), (1.3, 31.1), (1.1, 31.7), (1.4, 32.1),
    (2.1, 27.9), (1.8, 28.6), (2.2, 29.2), (1.9, 29.9), (2.1, 30.5), (2.0, 31.2), (1.8, 31.9),
    (2.8, 28.2), (2.5, 28.9), (2.9, 29.5), (2.6, 30.2), (2.8, 30.8), (2.7, 31.4), (2.5, 31.9),
    (3.5, 28.5), (3.2, 29.2), (3.6, 29.8), (3.3, 30.4), (3.5, 31.1), (3.4, 31.8),
    (4.2, 28.8), (3.9, 29.5), (4.3, 30.1), (4.0, 30.7), (4.2, 31.3), (4.1, 31.7),
    (4.9, 29.2), (4.6, 29.9), (5.0, 30.5), (4.7, 31.1), (4.9, 31.6),
    (5.6, 29.5), (5.3, 30.1), (5.7, 30.7), (5.4, 31.2), (5.5, 31.5),
    (6.3, 29.7), (6.0, 30.3), (6.4, 30.8), (6.1, 31.4),
    (7.0, 30.0), (6.7, 30.5), (7.1, 31.0), (6.8, 31.4), (7.7, 30.2), (7.4, 30.7), (7.8, 31.4),
    (-6.0, 28.9), (-6.1, 29.6), (-6.0, 30.4), (-6.1, 31.2),
    (-5.3, 28.1), (-5.4, 28.8), (-5.3, 29.5), (-5.4, 30.2), (-5.3, 30.9), (-5.4, 31.6),
    (-4.6, 27.8), (-4.7, 28.5), (-4.6, 29.2), (-4.7, 29.9), (-4.6, 30.6), (-4.7, 31.3), (-4.6, 31.8),
    (-3.9, 27.6), (-4.0, 28.3), (-3.9, 29.0), (-4.0, 29.7), (-3.9, 30.4), (-4.0, 31.1), (-3.9, 31.9),
    (-3.2, 27.5), (-3.3, 28.2), (-3.2, 28.9), (-3.3, 29.6), (-3.2, 30.3), (-3.3, 31.0), (-3.2, 31.7), (-3.3, 32.1),
    (-2.5, 27.4), (-2.6, 28.1), (-2.5, 28.8), (-2.6, 29.5), (-2.5, 30.3), (-2.6, 31.0), (-2.5, 31.7), (-2.6, 32.2),
    (-1.8, 27.3), (-1.9, 28.0), (-1.8, 28.8), (-1.9, 29.5), (-1.8, 30.2), (-1.9, 30.9), (-1.8, 31.6), (-1.9, 32.2),
    (-1.1, 27.3), (-1.2, 28.1), (-1.1, 28.8), (-1.2, 29.5), (-1.1, 30.2), (-1.2, 30.9), (-1.1, 31.7), (-1.2, 32.3),
    (-0.4, 27.4), (-0.5, 28.1), (-0.4, 28.9), (-0.5, 29.6), (-0.4, 30.3), (-0.5, 31.0), (-0.4, 31.7), (-0.5, 32.3),
    (0.3, 27.5), (0.2, 28.2), (0.3, 28.9), (0.2, 29.7), (0.3, 30.4), (0.2, 31.1), (0.3, 31.8), (0.2, 32.2),
    (1.0, 27.6), (0.9, 28.3), (1.0, 29.0), (0.9, 29.8), (1.0, 30.5), (0.9, 31.2), (1.0, 31.9),
    (1.7, 27.8), (1.6, 28.5), (1.7, 29.3), (1.6, 30.0), (1.7, 30.7), (1.6, 31.4), (1.7, 32.0),
    (2.4, 28.1), (2.3, 28.8), (2.4, 29.5), (2.3, 30.2), (2.4, 30.9), (2.3, 31.5), (2.4, 31.9),
    (3.1, 28.4), (3.0, 29.1), (3.1, 29.8), (3.0, 30.5), (3.1, 31.2), (3.0, 31.8),
    (3.8, 28.7), (3.7, 29.4), (3.8, 30.1), (3.7, 30.8), (3.8, 31.4),
    (4.5, 29.0), (4.4, 29.7), (4.5, 30.4), (4.4, 31.0), (4.5, 31.6),
    (5.2, 29.3), (5.1, 30.0), (5.2, 30.6), (5.1, 31.2),
    (5.9, 29.6), (5.8, 30.2), (5.9, 30.9), (5.8, 31.4),
    (6.6, 29.8), (6.5, 30.4), (6.6, 31.1), (7.3, 30.1), (7.2, 30.7), (7.3, 31.3),
    (8.4, 31.4), (8.2, 30.4), (7.7, 29.8), (8.9, 31.3), (9.1, 30.5), (9.0, 30.1),
    (9.8, 31.5), (9.6, 30.4), (9.7, 30.9), (10.3, 31.4), (10.5, 30.3), (10.4, 30.9),
    (11.2, 31.3), (11.0, 30.2), (11.1, 30.7), (11.7, 31.5), (11.9, 30.4), (11.8, 30.9),
    (12.6, 31.3), (12.4, 30.3), (12.5, 30.8), (13.1, 31.4), (13.3, 30.5), (13.2, 30.9),
    (13.8, 31.3), (14.0, 30.4), (14.2, 30.9), (14.5, 31.2), (14.4, 30.6),
    (7.9, 30.6), (8.0, 31.5), (8.6, 30.0), (8.7, 31.0), (9.3, 31.5), (9.4, 30.3),
    (10.0, 30.7), (10.1, 31.6), (10.7, 30.0), (10.8, 31.3), (11.4, 30.6), (11.5, 31.6),
    (12.1, 30.1), (12.2, 31.4), (12.8, 30.7), (12.9, 31.5), (13.5, 30.2), (13.6, 31.3),
    (14.1, 30.0), (14.4, 31.5),
]
prop_bottom = [
    (-13.4, 5.2), (-13.1, 4.3), (-12.9, 5.6), (-12.4, 5.8), (-12.7, 4.3), (-12.5, 5.0),
    (-11.7, 5.9), (-12.0, 4.5), (-11.9, 3.9), (-11.0, 5.5), (-11.3, 4.2), (-11.2, 3.7),
    (-10.3, 5.4), (-10.6, 4.3), (-10.4, 3.8), (-9.6, 5.5), (-9.9, 4.4), (-9.8, 3.9),
    (-8.9, 5.6), (-9.2, 4.3), (-9.1, 3.8), (-8.2, 5.4), (-8.4, 4.4), (-8.3, 3.9),
    (-7.5, 5.6), (-7.7, 4.3), (-7.6, 3.8), (-6.8, 5.5), (-7.0, 4.4), (-6.9, 3.9),
    (-6.1, 5.7), (-6.3, 4.3), (-6.2, 3.8),
    (-12.9, 4.7), (-12.8, 5.9), (-12.2, 4.0), (-12.1, 5.3), (-11.5, 4.8), (-11.4, 5.7),
    (-10.8, 4.0), (-10.7, 5.1), (-10.1, 4.6), (-10.0, 5.8), (-9.4, 4.1), (-9.3, 5.3),
    (-8.7, 4.6), (-8.6, 5.7), (-8.0, 4.1), (-7.9, 5.1), (-7.3, 4.6), (-7.2, 5.8),
    (-6.6, 4.1), (-6.5, 5.2),
    (-5.4, 3.3), (-5.7, 4.0), (-5.3, 4.7), (-5.6, 5.3), (-5.5, 6.0), (-5.4, 6.4),
    (-4.7, 3.1), (-5.0, 3.8), (-4.6, 4.4), (-4.9, 5.1), (-4.8, 5.8), (-4.7, 6.4), (-5.0, 6.7),
    (-4.0, 2.9), (-4.3, 3.6), (-3.9, 4.2), (-4.2, 4.9), (-4.1, 5.6), (-4.0, 6.3), (-4.3, 7.0),
    (-3.3, 2.8), (-3.6, 3.5), (-3.2, 4.1), (-3.5, 4.8), (-3.4, 5.5), (-3.3, 6.2), (-3.6, 6.8), (-3.4, 7.3),
    (-2.6, 2.7), (-2.9, 3.4), (-2.5, 4.0), (-2.8, 4.7), (-2.7, 5.4), (-2.6, 6.1), (-2.9, 6.8), (-2.7, 7.5),
    (-1.9, 2.7), (-2.2, 3.4), (-1.8, 4.1), (-2.1, 4.8), (-2.0, 5.5), (-1.9, 6.2), (-2.2, 6.9), (-2.0, 7.6),
    (-1.2, 2.8), (-1.5, 3.5), (-1.1, 4.2), (-1.4, 4.9), (-1.3, 5.6), (-1.2, 6.3), (-1.5, 7.0), (-1.3, 7.7),
    (-0.5, 2.8), (-0.8, 3.5), (-0.4, 4.2), (-0.7, 4.9), (-0.6, 5.6), (-0.5, 6.3), (-0.8, 7.0), (-0.6, 7.7),
    (0.2, 2.9), (-0.1, 3.6), (0.3, 4.2), (0.0, 4.9), (0.1, 5.6), (0.2, 6.3), (-0.1, 7.0), (0.1, 7.7),
    (0.9, 3.0), (0.6, 3.7), (1.0, 4.3), (0.7, 5.0), (0.8, 5.7), (0.9, 6.3), (0.6, 7.0), (0.8, 7.6),
    (1.6, 3.1), (1.3, 3.8), (1.7, 4.4), (1.4, 5.1), (1.5, 5.8), (1.6, 6.4), (1.3, 7.0), (1.5, 7.4),
    (2.3, 3.2), (2.0, 3.9), (2.4, 4.5), (2.1, 5.2), (2.2, 5.9), (2.3, 6.6), (2.0, 7.3),
    (3.0, 3.3), (2.7, 4.0), (3.1, 4.6), (2.8, 5.3), (2.9, 6.0), (3.0, 6.6), (2.7, 7.2),
    (3.7, 3.4), (3.4, 4.1), (3.8, 4.7), (3.5, 5.4), (3.6, 6.1), (3.7, 6.7), (3.5, 7.1),
    (4.4, 3.6), (4.1, 4.3), (4.5, 4.9), (4.2, 5.6), (4.3, 6.3), (4.1, 7.0),
    (5.1, 3.7), (4.8, 4.4), (5.2, 5.0), (4.9, 5.7), (5.0, 6.3), (4.8, 6.9),
    (5.8, 3.9), (5.5, 4.6), (5.9, 5.2), (5.6, 5.9), (5.7, 6.4), (5.5, 6.8),
    (6.5, 4.2), (6.2, 4.9), (6.6, 5.5), (6.3, 6.1), (6.4, 6.7),
    (7.2, 4.4), (6.9, 5.0), (7.3, 5.6), (7.0, 6.1), (7.1, 6.6),
    (7.9, 4.6), (7.6, 5.2), (8.0, 5.8), (7.7, 6.5), (8.6, 4.7), (8.3, 5.3), (8.7, 5.9), (8.4, 6.5),
    (9.3, 4.8), (9.0, 5.4), (9.4, 6.0), (9.1, 6.5),
    (-5.9, 3.6), (-5.8, 4.3), (-5.9, 5.0), (-5.8, 5.7), (-5.9, 6.2),
    (-5.2, 3.2), (-5.1, 3.9), (-5.2, 4.6), (-5.1, 5.3), (-5.2, 6.0), (-5.1, 6.6),
    (-4.5, 3.0), (-4.4, 3.7), (-4.5, 4.4), (-4.4, 5.1), (-4.5, 5.8), (-4.4, 6.5), (-4.5, 6.9),
    (-3.8, 2.8), (-3.7, 3.5), (-3.8, 4.2), (-3.7, 4.9), (-3.8, 5.7), (-3.7, 6.4), (-3.8, 7.1),
    (-3.1, 2.7), (-3.0, 3.4), (-3.1, 4.1), (-3.0, 4.9), (-3.1, 5.6), (-3.0, 6.4), (-3.1, 7.1), (-3.0, 7.4),
    (-2.4, 2.7), (-2.3, 3.4), (-2.4, 4.1), (-2.3, 4.9), (-2.4, 5.7), (-2.3, 6.4), (-2.4, 7.2), (-2.3, 7.6),
    (-1.7, 2.7), (-1.6, 3.4), (-1.7, 4.2), (-1.6, 4.9), (-1.7, 5.7), (-1.6, 6.5), (-1.7, 7.2), (-1.6, 7.7),
    (-1.0, 2.8), (-0.9, 3.5), (-1.0, 4.2), (-0.9, 5.0), (-1.0, 5.8), (-0.9, 6.6), (-1.0, 7.3), (-0.9, 7.7),
    (-0.3, 2.8), (-0.2, 3.5), (-0.3, 4.3), (-0.2, 5.0), (-0.3, 5.8), (-0.2, 6.6), (-0.3, 7.3), (-0.2, 7.8),
    (0.4, 2.9), (0.5, 3.6), (0.4, 4.4), (0.5, 5.1), (0.4, 5.9), (0.5, 6.6), (0.4, 7.3), (0.5, 7.7),
    (1.1, 3.0), (1.2, 3.7), (1.1, 4.5), (1.2, 5.2), (1.1, 6.0), (1.2, 6.7), (1.1, 7.4),
    (1.8, 3.1), (1.9, 3.9), (1.8, 4.6), (1.9, 5.3), (1.8, 6.1), (1.9, 6.8), (1.8, 7.3),
    (2.5, 3.2), (2.6, 4.0), (2.5, 4.7), (2.6, 5.4), (2.5, 6.2), (2.6, 6.9), (2.5, 7.3),
    (3.2, 3.3), (3.3, 4.1), (3.2, 4.8), (3.3, 5.5), (3.2, 6.3), (3.3, 6.9),
    (3.9, 3.5), (4.0, 4.2), (3.9, 4.9), (4.0, 5.7), (3.9, 6.4), (4.0, 7.0),
    (4.6, 3.6), (4.7, 4.3), (4.6, 5.1), (4.7, 5.8), (4.6, 6.5),
    (5.3, 3.8), (5.4, 4.5), (5.3, 5.2), (5.4, 6.0), (5.3, 6.7),
    (6.0, 4.0), (6.1, 4.7), (6.0, 5.4), (6.1, 6.1), (6.0, 6.7),
    (6.7, 4.3), (6.8, 5.0), (6.7, 5.7), (6.8, 6.5),
    (7.4, 4.5), (7.5, 5.2), (7.4, 5.9), (7.5, 6.5),
    (8.1, 4.7), (8.2, 5.4), (8.1, 6.1), (8.2, 6.6),
    (8.8, 4.8), (8.9, 5.5), (8.8, 6.2), (8.9, 6.6), (9.5, 4.9), (9.4, 5.6), (9.5, 6.3),
    (9.8, 6.6), (10.0, 4.8), (9.9, 5.7), (10.6, 6.7), (10.5, 4.7), (10.7, 5.9),
    (11.3, 6.6), (11.2, 4.9), (11.4, 6.0), (12.0, 6.7), (11.9, 4.8), (12.1, 5.9),
    (12.7, 6.6), (12.6, 4.9), (12.8, 6.0), (13.4, 6.7), (13.3, 5.0), (13.5, 6.1),
    (14.4, 6.2), (14.3, 5.0), (14.6, 5.6),
    (10.2, 6.2), (10.3, 5.2), (10.9, 6.4), (11.0, 5.4), (11.6, 6.3), (11.7, 5.2),
    (12.3, 6.4), (12.4, 5.3), (13.0, 6.3), (13.1, 5.5), (13.8, 6.4), (13.9, 5.3),
]

x_ticks = [-15, -10, -5, 0, 5, 10, 15]
x_tick_text = ["-15", "-10", "-5", "0", "5", "10", "15"]
y_ticks = [0, 5, 10, 15, 20, 25, 30, 35]
y_tick_text = ["0", "5", "10", "15", "20", "25", "30", "35"]

BLUE = "#0072BD"
ORANGE = "#D95319"
GOLD = "#EDB120"
AXIS = "#262626"
FONT = "Liberation Sans, Arial, Helvetica, sans-serif"


def unzip(*groups):
    xs, ys = [], []
    for g in groups:
        for px, py in g:
            xs.append(px)
            ys.append(py)
    return xs, ys


tlnf_x, tlnf_y = unzip(tlnf_diag_a, tlnf_diag_b, tlnf_top, tlnf_bottom)
prop_x, prop_y = unzip(prop_diag_a, prop_diag_b, prop_top, prop_bottom)
line_x = line_top_x + line_diag_a_x + line_diag_b_x + line_bottom_x
line_y = line_top_y + line_diag_a_y + line_diag_b_y + line_bottom_y

fig = go.Figure()
fig.add_trace(go.Scatter(
    x=tlnf_x, y=tlnf_y, mode="markers", name="TLNF/UK",
    marker=dict(symbol="circle-open", size=10, color=BLUE, line=dict(width=1)),
))
fig.add_trace(go.Scatter(
    x=prop_x, y=prop_y, mode="markers", name="Poposed method",
    marker=dict(symbol="circle-open", size=10, color=ORANGE, line=dict(width=1)),
))
fig.add_trace(go.Scatter(
    x=line_x, y=line_y, mode="markers", name="Line",
    marker=dict(symbol="circle", size=9.5, color="black", line=dict(color=GOLD, width=1.2)),
))

axis_common = dict(
    showgrid=False, zeroline=False, showline=True, linecolor=AXIS, linewidth=1,
    mirror="ticks", ticks="inside", ticklen=6, tickwidth=1, tickcolor=AXIS,
    tickfont=dict(family=FONT, size=13, color=AXIS),
)

fig.update_layout(
    width=649, height=486,
    margin=dict(l=56, r=15, t=14, b=54),
    paper_bgcolor="white", plot_bgcolor="white",
    font=dict(family=FONT, size=13, color=AXIS),
    xaxis=dict(range=[-15, 15], tickvals=x_ticks, ticktext=x_tick_text, ticklabelstandoff=8,
               title=dict(text="x(m)", font=dict(family=FONT, size=15, color=AXIS), standoff=4),
               **axis_common),
    yaxis=dict(range=[0, 35], tickvals=y_ticks, ticktext=y_tick_text, ticklabelstandoff=5,
               title=dict(text="y(m)", font=dict(family=FONT, size=15, color=AXIS), standoff=6),
               **axis_common),
    legend=dict(x=0.026, y=0.588, xanchor="left", yanchor="top",
                bgcolor="white", bordercolor=AXIS, borderwidth=1,
                font=dict(family=FONT, size=13, color="black"),
                tracegroupgap=0, itemsizing="trace", itemwidth=40),
    showlegend=True,
)

fig.write_html("out.html")
